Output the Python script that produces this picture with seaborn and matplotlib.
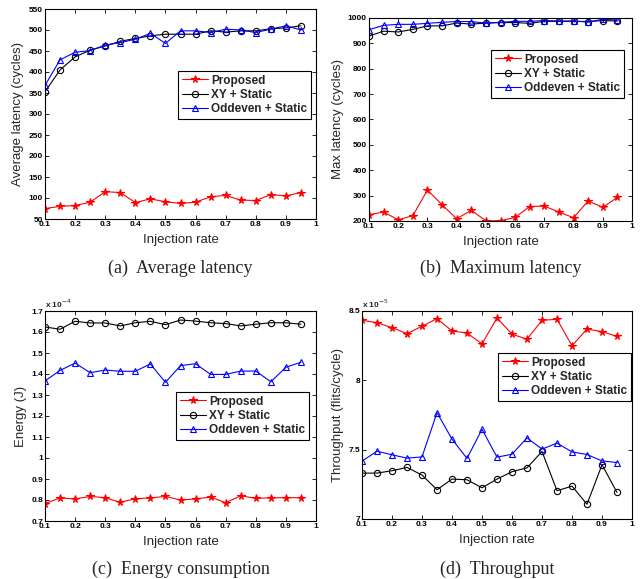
import numpy as np
import matplotlib
matplotlib.use("Agg")
import matplotlib.pyplot as plt
import seaborn as sns
from matplotlib.ticker import FixedLocator, FuncFormatter

# ---- data ---------------------------------------------------------------
injection_rate = [0.10, 0.15, 0.20, 0.25, 0.30, 0.35, 0.40, 0.45, 0.50,
                  0.55, 0.60, 0.65, 0.70, 0.75, 0.80, 0.85, 0.90, 0.95]
series_names = ["Proposed", "XY + Static", "Oddeven + Static"]

avg_latency_proposed = [75, 80, 82, 90, 115, 113, 89, 98, 91, 87, 90, 103, 106, 95, 94, 108, 105, 113]
avg_latency_xy = [353, 405, 436, 452, 462, 473, 480, 486, 490, 490, 490, 498, 495, 498, 498, 503, 505, 510]
avg_latency_oddeven = [368, 429, 447, 451, 464, 470, 478, 492, 468, 498, 498, 494, 502, 500, 494, 502, 510, 500]

max_latency_proposed = [225, 235, 205, 221, 322, 264, 209, 242, 201, 201, 214, 257, 259, 235, 213, 279, 254, 293]
max_latency_xy = [929, 948, 945, 955, 969, 969, 980, 976, 980, 982, 982, 979, 987, 987, 987, 986, 990, 988]
max_latency_oddeven = [954, 971, 975, 975, 979, 983, 986, 986, 980, 983, 987, 987, 990, 988, 988, 984, 995, 992]

# energy in units of 1e-4 J
energy_proposed = [0.783, 0.810, 0.805, 0.817, 0.811, 0.789, 0.806, 0.810, 0.817, 0.800, 0.805, 0.814, 0.787, 0.820, 0.808, 0.810, 0.811, 0.811]
energy_xy = [1.624, 1.613, 1.651, 1.643, 1.643, 1.629, 1.644, 1.651, 1.635, 1.657, 1.652, 1.644, 1.640, 1.629, 1.637, 1.644, 1.644, 1.637]
energy_oddeven = [1.367, 1.417, 1.452, 1.406, 1.419, 1.413, 1.413, 1.448, 1.360, 1.440, 1.449, 1.398, 1.398, 1.414, 1.414, 1.363, 1.432, 1.456]

# throughput in units of 1e-5 flits/cycle
throughput_proposed = [8.433, 8.416, 8.380, 8.337, 8.390, 8.445, 8.356, 8.341, 8.263, 8.450, 8.333, 8.297, 8.433, 8.440, 8.250, 8.370, 8.351, 8.317]
throughput_xy = [7.331, 7.331, 7.348, 7.372, 7.317, 7.211, 7.288, 7.283, 7.225, 7.288, 7.341, 7.369, 7.487, 7.204, 7.237, 7.106, 7.391, 7.192]
throughput_oddeven = [7.417, 7.489, 7.463, 7.439, 7.448, 7.767, 7.576, 7.437, 7.647, 7.446, 7.467, 7.585, 7.504, 7.547, 7.484, 7.465, 7.419, 7.407]

x_ticks = [0.1, 0.2, 0.3, 0.4, 0.5, 0.6, 0.7, 0.8, 0.9, 1.0]

# ---- style --------------------------------------------------------------
sns.set_style("ticks")
plt.rcParams["font.family"] = ["Liberation Sans", "DejaVu Sans"]

W, H = 644, 579
fig = plt.figure(figsize=(W / 100, H / 100), dpi=100)


def px_axes(left, top, right, bottom):
    return fig.add_axes([left / W, 1 - bottom / H, (right - left) / W, (bottom - top) / H])


styles = [
    dict(color="#ff0000", marker="*", markersize=5.5, markerfacecolor="#ff0000", markeredgecolor="#ff0000"),
    dict(color="#000000", marker="o", markersize=4.5, markerfacecolor="none", markeredgecolor="#000000"),
    dict(color="#0000ff", marker="^", markersize=5, markerfacecolor="none", markeredgecolor="#0000ff"),
]


def fmt(v, _pos):
    return "%g" % round(v, 6)


def draw_panel(box, series, ylim, yticks, ylabel, caption, legend_box, exponent=None, cap_y=None):
    ax = px_axes(*box)
    for name, vals, st in zip(series_names, series, styles):
        sns.lineplot(x=injection_rate, y=vals, ax=ax, linewidth=0.8,
                     markeredgewidth=0.8, label=name, **st)
    ax.set_xlim(0.1, 1.0)
    ax.set_ylim(*ylim)
    ax.xaxis.set_major_locator(FixedLocator(x_ticks))
    ax.yaxis.set_major_locator(FixedLocator(yticks))
    ax.xaxis.set_major_formatter(FuncFormatter(fmt))
    ax.yaxis.set_major_formatter(FuncFormatter(fmt))
    ax.tick_params(direction="in", length=3, width=0.6, top=True, right=True,
                   labelsize=6, pad=1.5, colors="black")
    for lab in ax.get_xticklabels() + ax.get_yticklabels():
        lab.set_fontweight("bold")
    for sp in ax.spines.values():
        sp.set_visible(True)
        sp.set_linewidth(0.8)
        sp.set_color("black")
    ax.set_xlabel("Injection rate", fontsize=9.5, labelpad=4)
    ax.set_ylabel(ylabel, fontsize=9.5, labelpad=3)
    if exponent is not None:
        ax.text(0.0, 1.005, "x 10$^{%d}$" % exponent, transform=ax.transAxes,
                ha="left", va="bottom", fontsize=6, fontweight="bold")
    lx0, ly0, lx1, ly1 = legend_box
    leg = ax.legend(loc="upper left",
                    bbox_to_anchor=(lx0 / W, 1 - ly0 / H),
                    bbox_transform=fig.transFigure,
                    frameon=True, fancybox=False, framealpha=1,
                    edgecolor="black", borderaxespad=0, borderpad=0.3,
                    handlelength=2.2, handletextpad=0.3, labelspacing=0.2,
                    prop=dict(size=8.5, weight="bold"))
    leg.get_frame().set_linewidth(0.8)
    cx = (box[0] + box[2]) / 2
    fig.text(cx / W, 1 - cap_y / H, caption, ha="center", va="center",
             fontsize=13, family=["Liberation Serif", "DejaVu Serif"])
    return ax


draw_panel((45, 9, 316, 219),
           [avg_latency_proposed, avg_latency_xy, avg_latency_oddeven],
           (50, 550), list(range(50, 551, 50)), "Average latency (cycles)",
           "(a)  Average latency", (178, 71, 313, 115), cap_y=268)

draw_panel((369, 18, 632, 221),
           [max_latency_proposed, max_latency_xy, max_latency_oddeven],
           (200, 1000), list(range(200, 1001, 100)), "Max latency (cycles)",
           "(b)  Maximum latency", (491, 50, 621, 93), cap_y=268)

draw_panel((45, 311, 316, 521),
           [energy_proposed, energy_xy, energy_oddeven],
           (0.7, 1.7), [0.7, 0.8, 0.9, 1.0, 1.1, 1.2, 1.3, 1.4, 1.5, 1.6, 1.7], "Energy (J)",
           "(c)  Energy consumption", (176, 392, 307, 436), exponent=-4, cap_y=569)

draw_panel((362, 311, 632, 519),
           [throughput_proposed, throughput_xy, throughput_oddeven],
           (7.0, 8.5), [7.0, 7.5, 8.0, 8.5], "Throughput (flits/cycle)",
           "(d)  Throughput", (498, 353, 629, 398), exponent=-5, cap_y=569)

fig.savefig("out.png", dpi=100, facecolor="white")
